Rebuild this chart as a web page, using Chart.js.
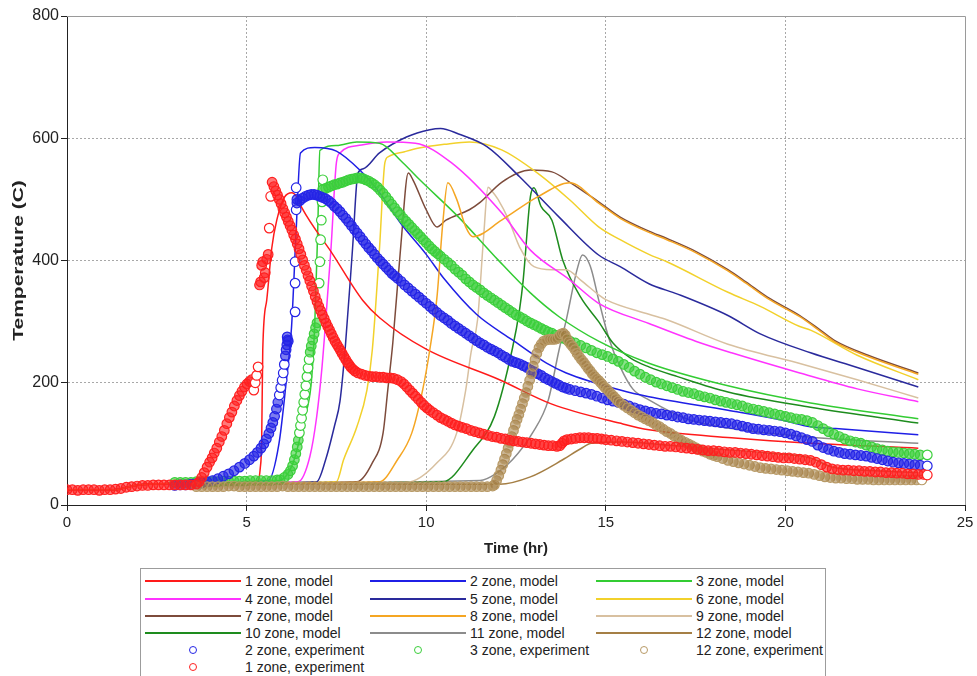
<!DOCTYPE html>
<html><head><meta charset="utf-8">
<script src="https://cdn.jsdelivr.net/npm/chart.js@4.4.0/dist/chart.umd.min.js"></script>
<style>
html,body{margin:0;padding:0;background:#fff;width:977px;height:676px;overflow:hidden;font-family:"Liberation Sans",Arial,sans-serif;}
#wrap{position:absolute;left:0;top:0;width:977px;height:560px;}
#legend{position:absolute;left:140px;top:568px;width:686px;height:120px;border:1px solid #9c9c9c;box-sizing:border-box;background:#fff;}
.item{position:absolute;height:18px;font-size:14px;line-height:18px;color:#222;white-space:nowrap;}
.sw{position:absolute;left:0;top:8px;width:96px;height:2px;}
.dot{position:absolute;left:44px;top:5px;width:8px;height:8px;border-radius:50%;border:1px solid;box-sizing:border-box;background:#fff;}
.lab{position:absolute;left:100px;top:0;}
</style></head>
<body>
<div id="wrap"><canvas id="c" width="977" height="560"></canvas></div>
<div id="legend"></div>
<script>
// ---- axis ticks ----
const xTicks = [0, 5, 10, 15, 20, 25];
const yTicks = [0, 200, 400, 600, 800];

// ---- series labels ----
const labels = ["1 zone, model","2 zone, model","3 zone, model","4 zone, model","5 zone, model","6 zone, model",
  "7 zone, model","8 zone, model","9 zone, model","10 zone, model","11 zone, model","12 zone, model",
  "2 zone, experiment","3 zone, experiment","12 zone, experiment","1 zone, experiment"];

// ---- model curves: [time (hr), temperature (C)] ----
const zone1Model = [[0,25],[1.3,25],[1.9,32],[3,35],[5.3,39],[5.38,60],[5.42,106],[5.45,254],[5.56,335],[5.7,420],[5.84,466],[6.06,504],[6.26,511],[6.4,504],[6.54,486],[7.4,410],[8.23,335],[8.71,306],[10,255],[12.04,205],[13.5,165],[15.38,134],[16.2,123],[18.5,110],[20.7,101],[23.7,93]];
const zone2Model = [[0,25],[1.3,25],[1.9,32],[3,35],[5.6,40],[5.9,100],[6.1,200],[6.25,290],[6.38,450],[6.5,576],[6.9,585],[7.5,579],[8.15,548],[8.7,511],[9.3,460],[10.0,410],[10.5,370],[11.4,312],[12.4,270],[13.35,232],[13.9,216],[15.4,188],[16.2,177],[18.4,155],[19.9,139],[20.7,128],[21.4,125],[23.7,115]];
const zone3Model = [[0,25],[1.3,25],[1.9,32],[3,35],[5.9,40],[6.3,70],[6.6,140],[6.8,200],[6.9,300],[6.98,450],[7.04,580],[7.5,588],[8.07,594],[8.7,592],[9.35,560],[9.82,532],[10.9,471],[12.0,401],[12.9,347],[13.7,308],[14.8,268],[16.2,232],[18.4,195],[20.7,167],[23.7,141]];
const zone4Model = [[0,25],[1.3,25],[1.9,32],[3,35],[6.43,38],[6.76,79],[6.95,144],[7.1,226],[7.2,300],[7.35,420],[7.5,560],[7.6,576],[8.2,589],[8.9,594],[9.7,592],[10.7,560],[12.1,478],[12.9,417],[14.0,368],[14.8,330],[16.2,297],[17.5,268],[18.5,249],[20.4,216],[22,190],[23.7,169]];
const zone5Model = [[0,25],[1.3,25],[1.9,32],[3,35],[6.95,38],[7.2,74],[7.45,130],[7.6,170],[7.75,260],[7.95,420],[8.1,543],[8.25,550],[8.7,576],[9.45,602],[10.1,614],[10.4,616],[10.9,607],[11.7,586],[12.6,537],[13.7,471],[14.8,409],[15.4,390],[16.2,362],[17,345],[18.4,310],[19.3,280],[20.7,249],[22,225],[23.7,193]];
const zone6Model = [[0,25],[1.3,25],[1.9,32],[3,35],[7.5,38],[7.7,74],[8.07,128],[8.35,188],[8.5,254],[8.7,420],[8.85,560],[8.95,570],[9.4,578],[9.8,584],[10.5,590],[11.2,594],[12.1,581],[13.1,543],[14.0,499],[14.8,455],[15.4,434],[16.2,410],[16.7,398],[18.4,348],[19.3,325],[20.4,292],[20.7,286],[22,245],[23.7,205]];
const zone7Model = [[0,25],[1.3,25],[1.9,32],[3,35],[8.07,38],[8.5,69],[8.8,118],[8.93,188],[9.07,265],[9.3,429],[9.5,543],[9.63,532],[10.0,483],[10.3,455],[10.55,466],[11.2,483],[11.5,495],[12.1,528],[12.9,548],[13.5,545],[14.0,528],[14.8,496],[15.4,471],[16.2,448],[16.7,436],[17.5,415],[18.4,385],[18.9,365],[19.5,340],[20.4,310],[21.0,285],[21.4,268],[22.3,245],[23.7,216]];
const zone8Model = [[0,25],[1.3,25],[1.9,32],[3,35],[8.7,38],[9.2,74],[9.6,118],[9.9,188],[10.1,254],[10.3,340],[10.46,460],[10.6,527],[10.85,500],[11.1,455],[11.3,439],[12.1,466],[13.1,504],[14.0,527],[14.8,494],[15.4,469],[16.2,446],[16.7,434],[17.5,413],[18.4,383],[18.9,363],[19.5,338],[20.4,308],[21.0,283],[21.4,266],[22.3,243],[23.7,214]];
const zone9Model = [[0,25],[1.3,25],[1.9,32],[3,35],[9.46,37],[10.3,69],[10.85,118],[11.1,188],[11.25,250],[11.43,303],[11.6,440],[11.72,520],[11.85,512],[12.0,500],[12.3,466],[12.6,422],[13.0,390],[13.5,385],[13.9,385],[14.3,368],[14.8,344],[15.0,336],[16.2,312],[16.7,303],[18.4,263],[20.5,230],[22,205],[23.7,175]];
const zone10Model = [[0,25],[1.3,25],[1.9,32],[3,35],[10.46,38],[11.3,90],[11.9,145],[12.4,256],[12.6,320],[12.7,368],[12.9,504],[13.0,519],[13.2,488],[13.5,466],[13.8,401],[14.3,340],[14.8,300],[15.2,265],[15.7,240],[16.2,226],[17,210],[18.4,185],[20.7,160],[23.7,134]];
const zone11Model = [[0,25],[1.3,25],[1.9,32],[3,35],[11.5,40],[11.96,52],[12.4,74],[12.96,118],[13.4,172],[13.7,254],[13.9,303],[14.2,385],[14.35,409],[14.45,405],[14.6,385],[14.8,336],[15.1,270],[15.4,226],[15.75,190],[16.2,172],[17.3,140],[18.5,125],[20.7,111],[23.7,101]];
const zone12Model = [[0,25],[1.3,25],[1.9,32],[3,35],[12.04,34],[12.9,46],[13.8,74],[14.3,92],[14.6,101],[15.5,103],[16.5,99],[18,92],[19.5,85],[20.7,77],[21.3,62],[22.5,56],[23.7,53]];

// ---- experiment readings: [time (hr), temperature (C)] ----
const zone1Exp = [[0,25],[0.15,25],[0.3,24],[0.45,25],[0.6,25],[0.75,25],[0.9,24],[1.05,25],[1.2,25],[1.35,26],[1.5,27],[1.65,29],[1.8,30],[1.95,31],[2.1,32],[2.25,32],[2.4,33],[2.55,33],[2.7,33],[2.85,33],[3.0,33],[3.15,33],[3.3,33],[3.45,33],[3.6,34],
[3.68,38],[3.75,45],[3.82,53],[3.9,62],[3.97,70],[4.04,77],[4.1,85],[4.17,93],[4.24,103],[4.31,112],[4.38,122],[4.45,133],[4.52,143],[4.59,152],[4.66,162],[4.73,171],[4.8,179],[4.87,186],[4.94,193],[5.01,198],[5.08,202],[5.14,205],
[5.2,188],[5.24,200],[5.28,212],[5.32,226],[5.36,360],[5.39,365],[5.42,392],[5.45,398],[5.49,372],[5.52,380],[5.56,402],[5.6,410],[5.63,453],[5.67,505],[5.71,528],
[5.76,521],[5.81,514],[5.86,507],[5.91,500],[5.96,493],[6.01,485],[6.06,478],[6.11,471],[6.16,464],[6.21,457],[6.26,450],[6.31,442],[6.36,435],[6.41,427],[6.46,419],[6.51,410],[6.56,401],[6.61,392],[6.66,384],[6.71,375],[6.76,367],[6.81,358],[6.86,350],[6.91,341],[6.96,333],[7.01,325],[7.06,318],[7.11,311],[7.16,305],[7.21,298],[7.26,292],[7.31,286],[7.36,280],[7.41,274],[7.46,268],[7.51,263],[7.56,258],[7.61,253],[7.66,248],[7.71,243],[7.76,238],[7.81,233],[7.86,229],[7.91,225],[7.96,222],[8.02,219],[8.1,216],[8.2,214],[8.3,212],[8.4,211],[8.5,210],[8.6,210],[8.7,209],[8.8,209],[8.9,208],[9.0,208],[9.1,207],[9.2,205],[9.3,202],[9.38,198],[9.46,193],[9.54,188],[9.62,183],[9.7,178],[9.78,173],[9.86,168],[9.94,163],[10.02,159],[10.1,155],[10.2,151],[10.3,147],[10.4,143],[10.5,140],[10.6,137],[10.7,134],[10.8,131],[10.9,129],[11.0,127],[11.12,125],[11.24,122],[11.36,120],[11.48,118],[11.6,116],[11.72,114],[11.84,112],[11.96,111],[12.08,109],[12.2,108],[12.32,106],[12.44,105],[12.56,104],[12.68,103],[12.8,102],[12.92,101],[13.04,100],[13.16,99],[13.28,98],[13.4,97],[13.52,97],[13.64,96],[13.72,97],[13.78,101],[13.84,105],[13.92,107],[14.04,108],[14.16,109],[14.28,110],[14.4,110],[14.52,110],[14.64,109],[14.76,109],[14.88,108],[15.0,107],[15.15,106],[15.3,105],[15.45,104],[15.6,103],[15.75,102],[15.9,101],[16.05,100],[16.2,99],[16.35,98],[16.5,97],[16.65,96],[16.8,96],[16.95,95],[17.1,94],[17.25,93],[17.4,92],[17.55,91],[17.7,90],[17.85,89],[18.0,89],[18.15,88],[18.3,87],[18.45,86],[18.6,86],[18.75,85],[18.9,84],[19.05,83],[19.2,82],[19.35,81],[19.5,80],[19.65,79],[19.8,78],[19.95,77],[20.1,77],[20.25,76],[20.4,75],[20.55,74],[20.7,73],[20.85,70],[21.0,66],[21.15,62],[21.3,59],[21.45,58],[21.6,57],[21.75,57],[21.9,56],[22.05,56],[22.2,55],[22.35,55],[22.5,54],[22.65,54],[22.8,53],[22.95,53],[23.1,52],[23.25,52],[23.4,51],[23.55,51],[23.7,50],[23.85,50],[23.95,49]];

const zone2Exp = [[3.0,32],[3.15,33],[3.3,33],[3.45,34],[3.6,35],[3.75,36],[3.9,38],[4.05,40],[4.2,43],[4.35,47],[4.5,51],[4.65,56],[4.8,62],[4.95,68],[5.08,74],[5.2,80],[5.3,86],[5.4,93],[5.48,100],[5.55,108],[5.62,117],[5.68,126],[5.73,135],[5.78,145],[5.83,157],[5.87,168],[5.91,180],[5.95,192],[5.99,204],[6.02,216],[6.05,230],[6.08,244],[6.1,254],[6.12,262],[6.14,270],[6.16,268],[6.13,275],
[6.35,316],[6.35,363],[6.35,398],[6.38,483],[6.38,519],[6.4,500],
[6.4,494],[6.48,498],[6.56,502],[6.64,505],[6.72,507],[6.8,508],[6.88,508],[6.96,507],[7.04,505],[7.12,503],[7.2,501],[7.28,498],[7.36,494],[7.44,489],[7.52,485],[7.6,480],[7.68,474],[7.76,469],[7.84,463],[7.92,457],[8.0,451],[8.08,445],[8.16,439],[8.24,433],[8.32,427],[8.4,421],[8.48,416],[8.56,410],[8.64,404],[8.72,399],[8.8,394],[8.88,389],[8.96,384],[9.04,379],[9.12,375],[9.2,371],[9.3,366],[9.4,360],[9.5,355],[9.6,350],[9.7,345],[9.8,340],[9.9,335],[10.0,330],[10.1,325],[10.2,320],[10.3,315],[10.4,310],[10.5,306],[10.6,302],[10.7,297],[10.8,293],[10.9,289],[11.0,285],[11.1,281],[11.2,277],[11.3,273],[11.4,269],[11.5,265],[11.6,262],[11.7,258],[11.8,255],[11.9,252],[12.0,249],[12.1,245],[12.2,242],[12.3,238],[12.4,235],[12.5,233],[12.6,231],[12.7,228],[12.8,225],[12.9,221],[13.0,218],[13.1,215],[13.2,212],[13.3,208],[13.4,205],[13.5,202],[13.6,199],[13.7,196],[13.8,193],[13.9,191],[14.0,189],[14.15,187],[14.3,185],[14.45,183],[14.6,181],[14.75,178],[14.9,175],[15.05,172],[15.2,170],[15.35,168],[15.5,165],[15.65,162],[15.8,159],[15.95,156],[16.1,154],[16.25,152],[16.4,150],[16.55,149],[16.7,147],[16.85,146],[17.0,144],[17.15,143],[17.3,141],[17.45,140],[17.6,139],[17.75,138],[17.9,137],[18.05,136],[18.2,135],[18.35,134],[18.5,133],[18.65,131],[18.8,129],[18.95,127],[19.1,125],[19.25,124],[19.4,123],[19.55,122],[19.7,121],[19.85,120],[20.0,118],[20.15,116],[20.3,113],[20.45,110],[20.6,107],[20.75,104],[20.9,98],[21.05,94],[21.2,91],[21.35,88],[21.5,86],[21.65,84],[21.8,83],[21.95,82],[22.1,81],[22.25,80],[22.4,78],[22.55,76],[22.7,74],[22.85,72],[23.0,70],[23.15,69],[23.3,68],[23.45,67],[23.6,66],[23.75,65],[23.95,64]];

const zone3Exp = [[3.0,37],[3.15,37],[3.3,37],[3.45,37],[3.6,38],[3.75,38],[3.9,38],[4.05,38],[4.2,38],[4.35,39],[4.5,39],[4.65,39],[4.8,39],[4.95,39],[5.1,40],[5.25,40],[5.4,40],[5.55,40],[5.7,40],[5.85,41],
[5.93,41],[6.05,45],[6.15,50],[6.22,56],[6.28,64],[6.33,74],[6.37,84],[6.41,95],[6.44,106],[6.47,118],[6.5,130],[6.53,142],[6.56,155],[6.59,168],[6.62,181],[6.65,195],[6.68,210],[6.71,224],[6.74,238],[6.77,250],[6.8,260],[6.84,270],[6.88,280],[6.92,290],[6.96,298],
[7.02,363],[7.04,398],[7.06,434],[7.08,466],[7.1,496],[7.12,532],
[7.12,516],[7.2,518],[7.28,520],[7.36,522],[7.44,524],[7.52,525],[7.6,527],[7.68,528],[7.76,530],[7.84,532],[7.92,533],[8.0,534],[8.08,535],[8.16,535],[8.24,534],[8.32,532],[8.4,530],[8.48,527],[8.56,524],[8.64,520],[8.72,515],[8.8,510],[8.88,504],[8.96,498],[9.04,492],[9.12,486],[9.2,480],[9.28,475],[9.36,469],[9.44,464],[9.52,459],[9.6,454],[9.68,449],[9.76,444],[9.84,439],[9.92,434],[10.0,429],[10.08,424],[10.16,419],[10.24,415],[10.32,411],[10.4,407],[10.5,402],[10.6,397],[10.7,392],[10.8,386],[10.9,381],[11.0,376],[11.1,370],[11.2,365],[11.3,360],[11.4,356],[11.5,352],[11.6,347],[11.7,343],[11.8,339],[11.9,335],[12.0,331],[12.1,327],[12.2,323],[12.3,319],[12.4,315],[12.5,311],[12.6,308],[12.7,305],[12.8,301],[12.9,298],[13.0,295],[13.1,292],[13.2,289],[13.3,286],[13.4,283],[13.5,281],[13.6,278],[13.7,276],[13.8,273],[13.9,271],[14.0,268],[14.15,265],[14.3,261],[14.45,257],[14.6,253],[14.75,249],[14.9,246],[15.05,243],[15.2,239],[15.35,235],[15.5,230],[15.65,225],[15.8,219],[15.95,214],[16.1,209],[16.25,205],[16.4,201],[16.55,198],[16.7,195],[16.85,192],[17.0,189],[17.15,186],[17.3,184],[17.45,182],[17.6,179],[17.75,177],[17.9,175],[18.05,172],[18.2,170],[18.35,168],[18.5,166],[18.65,164],[18.8,162],[18.95,159],[19.1,157],[19.25,155],[19.4,153],[19.55,151],[19.7,149],[19.85,147],[20.0,145],[20.15,143],[20.3,141],[20.45,140],[20.6,138],[20.75,135],[20.9,130],[21.05,125],[21.2,120],[21.35,116],[21.5,112],[21.65,108],[21.8,105],[21.95,103],[22.1,101],[22.25,98],[22.4,95],[22.55,92],[22.7,90],[22.85,88],[23.0,87],[23.15,86],[23.3,85],[23.45,84],[23.6,83],[23.75,82],[23.95,82]];

const zone12Exp = [[3.6,30],[3.75,30],[3.9,30],[4.05,30],[4.2,30],[4.35,30],[4.5,31],[4.65,31],[4.8,30],[4.95,30],[5.1,30],[5.25,30],[5.4,30],[5.55,30],[5.7,30],[5.85,30],[6.0,31],[6.15,30],[6.3,30],[6.45,30],[6.6,30],[6.75,30],[6.9,30],[7.05,30],[7.2,30],[7.35,30],[7.5,30],[7.65,30],[7.8,30],[7.95,30],[8.1,30],[8.25,30],[8.4,30],[8.55,30],[8.7,30],[8.85,30],[9.0,30],[9.15,30],[9.3,30],[9.45,30],[9.6,30],[9.75,30],[9.9,30],[10.05,30],[10.2,30],[10.35,30],[10.5,30],[10.65,30],[10.8,30],[10.95,30],[11.1,30],[11.25,30],[11.4,30],[11.55,30],[11.7,30],[11.85,31],
[11.9,33],[11.96,40],[12.02,48],[12.08,57],[12.13,66],[12.18,75],[12.23,84],[12.28,93],[12.33,102],[12.38,112],[12.43,122],[12.48,131],[12.53,140],[12.58,148],[12.63,157],[12.68,166],[12.73,175],[12.78,184],[12.83,194],[12.88,204],[12.93,215],[12.98,227],[13.03,238],[13.08,248],[13.14,257],[13.2,263],[13.27,268],[13.35,270],[13.43,271],[13.5,271],[13.57,271],[13.64,272],[13.7,276],[13.76,280],[13.82,281],[13.87,278],[13.92,272],[13.97,267],[14.02,263],[14.08,259],[14.14,254],[14.2,248],[14.26,243],[14.32,238],[14.38,234],[14.44,229],[14.5,224],[14.56,220],[14.62,215],[14.68,211],[14.74,207],[14.8,204],[14.86,200],[14.92,196],[14.98,192],[15.04,189],[15.1,185],[15.16,181],[15.22,178],[15.28,174],[15.34,170],[15.4,167],[15.5,163],[15.6,159],[15.7,155],[15.8,151],[15.9,147],[16.0,144],[16.1,141],[16.2,138],[16.3,135],[16.4,131],[16.5,128],[16.6,124],[16.7,120],[16.8,117],[16.9,113],[17.0,109],[17.1,106],[17.2,103],[17.3,100],[17.4,97],[17.5,94],[17.6,91],[17.7,88],[17.8,86],[17.9,83],[18.0,81],[18.1,79],[18.25,76],[18.4,73],[18.55,71],[18.7,69],[18.85,67],[19.0,65],[19.15,63],[19.3,61],[19.45,60],[19.6,59],[19.75,58],[19.9,57],[20.05,56],[20.2,55],[20.35,54],[20.5,53],[20.65,52],[20.8,50],[20.95,48],[21.1,46],[21.25,45],[21.4,44],[21.55,44],[21.7,43],[21.85,43],[22.0,42],[22.15,42],[22.3,42],[22.45,41],[22.6,41],[22.75,41],[22.9,41],[23.05,41],[23.2,41],[23.35,41],[23.5,41],[23.65,41],[23.8,41]];

// ---- colours ----
const modelColors = ["#ff1a1a","#1f1fe6","#33cc33","#ff33ff","#2a2a9c","#f2d12b","#7d4b3b","#f5a623","#d8c0a0","#1e8c1e","#8c8c8c","#a57f45"];
const expColors = ["#2525e6","#3ccf3c","#b89a66","#ff2020"];
const expDenseFill = ["rgba(37,37,230,0.6)","rgba(60,207,60,0.6)","rgba(160,122,64,0.55)","rgba(255,32,32,0.6)"];

const models = [zone1Model,zone2Model,zone3Model,zone4Model,zone5Model,zone6Model,zone7Model,zone8Model,zone9Model,zone10Model,zone11Model,zone12Model];
const exps = [zone2Exp, zone3Exp, zone12Exp, zone1Exp];
const expOrder = [2, 3, 1, 0];

const toXY = arr => arr.map(p => ({x: p[0], y: p[1]}));

// marker fill: tinted where markers overlap densely, hollow where isolated
function markerFill(c) {
  const ds = c.dataset, d = ds.data, i = c.dataIndex, ch = c.chart;
  if (!ch.scales || !ch.scales.x || i === undefined) return '#fff';
  if (i === d.length - 1) return '#fff';
  const sx = ch.scales.x, sy = ch.scales.y;
  const px = p => [sx.getPixelForValue(p.x), sy.getPixelForValue(p.y)];
  const a = px(d[i]);
  let best = 1e9;
  [i - 1, i + 1].forEach(j => {
    if (j < 0 || j >= d.length) return;
    const b = px(d[j]);
    best = Math.min(best, Math.hypot(a[0] - b[0], a[1] - b[1]));
  });
  return best < 7 ? ds.denseFill : '#fff';
}

const datasets = [];
models.forEach((m, i) => datasets.push({
  label: labels[i], data: toXY(m), showLine: true, borderColor: modelColors[i], backgroundColor: modelColors[i],
  borderWidth: 1.5, pointRadius: 0, cubicInterpolationMode: 'monotone', order: i === 7 ? 9 : 10
}));
exps.forEach((e, i) => datasets.push({
  label: labels[12 + i], data: toXY(e), showLine: false, borderColor: expColors[i], denseFill: expDenseFill[i],
  pointBorderColor: expColors[i], pointBackgroundColor: markerFill, pointBorderWidth: 1.2, pointRadius: 4.8, order: expOrder[i]
}));

const FONT = '"Liberation Sans", Arial, sans-serif';

const framePlugin = {
  id: 'frame',
  beforeDatasetsDraw(chart) {
    const {ctx, chartArea: a} = chart;
    ctx.save();
    ctx.strokeStyle = '#9a9a9a'; ctx.lineWidth = 1;
    ctx.beginPath();
    ctx.moveTo(a.left, Math.round(a.top) + 0.5);
    ctx.lineTo(Math.round(a.right) + 0.5, Math.round(a.top) + 0.5);
    ctx.lineTo(Math.round(a.right) + 0.5, a.bottom);
    ctx.stroke();
    ctx.restore();
  }
};
const stretchTitle = {
  id: 'stretchTitle',
  afterLayout(chart) {
    const s = chart.scales.y;
    if (!s || s.__patched) return;
    const orig = s.drawTitle;
    s.drawTitle = function () {
      const c = this.ctx, cx = 19, cy = (this.top + this.bottom) / 2;
      c.save(); c.translate(cx, cy); c.scale(1, 1.4); c.translate(-cx, -cy);
      orig.call(this); c.restore();
    };
    s.__patched = true;
  }
};

new Chart(document.getElementById('c'), {
  type: 'scatter',
  data: {datasets},
  plugins: [framePlugin, stretchTitle],
  options: {
    responsive: false, animation: false,
    layout: {padding: {top: 16, right: 12, left: 0, bottom: 0}},
    plugins: {legend: {display: false}, tooltip: {enabled: false}},
    scales: {
      x: {
        type: 'linear', min: xTicks[0], max: xTicks[xTicks.length - 1],
        afterBuildTicks: s => { s.ticks = xTicks.map(v => ({value: v})); },
        afterFit: s => { s.height = 55; },
        ticks: {font: {size: 15, family: FONT}, color: '#222', padding: 3, maxRotation: 0},
        grid: {color: c => (c.tick && (c.tick.value === 0 || c.tick.value === 25)) ? 'rgba(0,0,0,0)' : '#a8a8a8',
               lineWidth: 1, tickLength: 6, tickColor: '#222', drawTicks: true},
        border: {display: true, color: '#222', width: 1, dash: [2, 2]},
        title: {display: true, text: 'Time (hr)', font: {size: 15, weight: 'bold', family: FONT}, color: '#222', padding: {top: 0, bottom: 2}}
      },
      y: {
        type: 'linear', min: yTicks[0], max: yTicks[yTicks.length - 1],
        afterBuildTicks: s => { s.ticks = yTicks.map(v => ({value: v})); },
        afterFit: s => { s.width = 67; },
        ticks: {font: {size: 16, family: FONT}, color: '#222', padding: 2},
        grid: {color: c => (c.tick && (c.tick.value === 0 || c.tick.value === 800)) ? 'rgba(0,0,0,0)' : '#a8a8a8',
               lineWidth: 1, tickLength: 6, tickColor: '#222', drawTicks: true},
        border: {display: true, color: '#222', width: 1, dash: [2, 2]},
        title: {display: true, text: 'Temperature (C)', font: {size: 15, weight: 'bold', family: FONT}, color: '#222', padding: {top: 10, bottom: 0}}
      }
    }
  }
});

// ---- legend (3 columns, row-major) ----
const legend = document.getElementById('legend');
const colX = [4, 229, 455];
const rowY = [3, 21, 38, 55, 72, 89];
labels.forEach((lab, i) => {
  const r = Math.floor(i / 3), col = i % 3;
  const it = document.createElement('div');
  it.className = 'item';
  it.style.left = colX[col] + 'px';
  it.style.top = rowY[r] + 'px';
  if (i < 12) {
    const sw = document.createElement('div'); sw.className = 'sw'; sw.style.background = modelColors[i]; it.appendChild(sw);
  } else {
    const d = document.createElement('div'); d.className = 'dot'; d.style.borderColor = expColors[i - 12]; it.appendChild(d);
  }
  const t = document.createElement('span'); t.className = 'lab'; t.textContent = lab; it.appendChild(t);
  legend.appendChild(it);
});
</script>
</body></html>
